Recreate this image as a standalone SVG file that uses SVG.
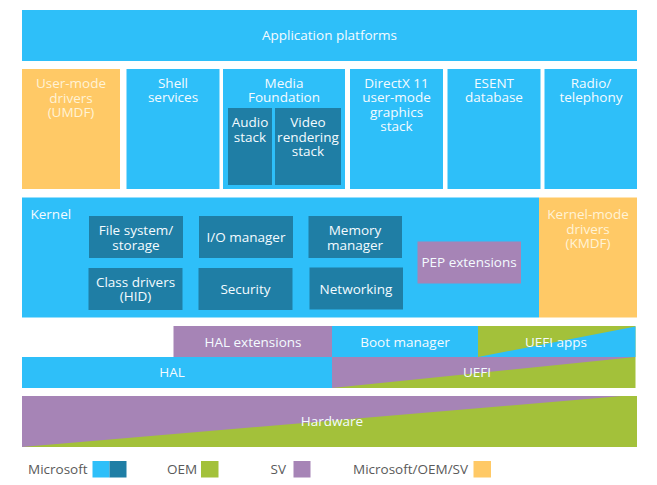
<svg xmlns="http://www.w3.org/2000/svg" width="657" height="485" viewBox="0 0 657 485">
<style>
text{font-family:"Open Sans","Noto Sans","DejaVu Sans",sans-serif;font-size:13.5px;fill:#F4FBFF;text-anchor:middle}
.lb{fill:#2EBFF9}
.db{fill:#1F7EA5}
.or{fill:#FFC966}
.pu{fill:#A684B6}
.gr{fill:#A3C13A}
.leg{fill:#5A5A5A;text-anchor:start}
.st{text-anchor:start}
.ot{fill:#FFF3D6}
</style>
<rect width="657" height="485" fill="#FFFFFF"/>
<g id="app-platforms"><rect class="lb" x="22" y="10" width="615" height="51"/><text x="329.5" y="40">Application platforms</text></g>
<g id="umdf"><rect class="or" x="22" y="69" width="98" height="120"/><text class="ot" x="71" y="88">User-mode<tspan x="71" dy="14.5">drivers</tspan><tspan x="71" dy="14.5">(UMDF)</tspan></text></g>
<g id="shell"><rect class="lb" x="126.5" y="69" width="93" height="120"/><text x="173" y="87.5">Shell<tspan x="173" dy="14.5">services</tspan></text></g>
<g id="media"><rect class="lb" x="223" y="69" width="122" height="120"/><text x="284" y="87.5">Media<tspan x="284" dy="14.5">Foundation</tspan></text></g>
<g id="audio"><rect class="db" x="228" y="108" width="44" height="77"/><text x="250" y="127.3">Audio<tspan x="250" dy="14.5">stack</tspan></text></g>
<g id="video"><rect class="db" x="275" y="108" width="66" height="77"/><text x="308" y="127.3">Video<tspan x="308" dy="14.5">rendering</tspan><tspan x="308" dy="14.5">stack</tspan></text></g>
<g id="directx"><rect class="lb" x="350" y="69" width="93" height="120"/><text x="396.5" y="87.5">DirectX 11<tspan x="396.5" dy="14.5">user-mode</tspan><tspan x="396.5" dy="14.5">graphics</tspan><tspan x="396.5" dy="14.5">stack</tspan></text></g>
<g id="esent"><rect class="lb" x="447.5" y="69" width="93" height="120"/><text x="494" y="87.5">ESENT<tspan x="494" dy="14.5">database</tspan></text></g>
<g id="radio"><rect class="lb" x="544.5" y="69" width="92.5" height="120"/><text x="591" y="87.5">Radio/<tspan x="591" dy="14.5">telephony</tspan></text></g>
<g id="kernel"><rect class="lb" x="22" y="197.5" width="517" height="120"/><text class="st" x="30.5" y="219.3">Kernel</text></g>
<g id="filesystem"><rect class="db" x="89" y="216" width="94" height="42"/><text x="136" y="235">File system/<tspan x="136" dy="14.5">storage</tspan></text></g>
<g id="io"><rect class="db" x="199" y="216" width="94" height="42"/><text x="246" y="242">I/O manager</text></g>
<g id="memory"><rect class="db" x="308.5" y="216" width="93.5" height="42"/><text x="355" y="235">Memory<tspan x="355" dy="14.5">manager</tspan></text></g>
<g id="classdrivers"><rect class="db" x="88.5" y="268" width="94" height="42"/><text x="135.5" y="286.7">Class drivers<tspan x="135.5" dy="14.5">(HID)</tspan></text></g>
<g id="security"><rect class="db" x="198.5" y="268" width="94" height="42"/><text x="245.5" y="294">Security</text></g>
<g id="networking"><rect class="db" x="309.5" y="267.5" width="93.5" height="42"/><text x="356" y="293.5">Networking</text></g>
<g id="pep"><rect class="pu" x="417.5" y="241.5" width="103.5" height="42"/><text x="469" y="266.5">PEP extensions</text></g>
<g id="kmdf"><rect class="or" x="539" y="197.5" width="98" height="120"/><text class="ot" x="588" y="219.3">Kernel-mode<tspan x="588" dy="14.5">drivers</tspan><tspan x="588" dy="14.5">(KMDF)</tspan></text></g>
<g id="hal-ext"><rect class="pu" x="173.5" y="326" width="159" height="31"/><text x="253" y="346.7">HAL extensions</text></g>
<g id="boot"><rect class="lb" x="332" y="326" width="146" height="31"/><text x="405" y="346.7">Boot manager</text></g>
<g id="uefi-apps"><rect class="gr" x="478" y="326" width="157.5" height="31"/><polygon class="lb" points="478,357 635.5,326.5 635.5,357"/><text x="556" y="346.7">UEFI apps</text></g>
<g id="hal"><rect class="lb" x="22" y="357" width="310" height="31"/><text x="172" y="377.3">HAL</text></g>
<g id="uefi"><rect class="gr" x="332" y="357" width="303.5" height="31"/><polygon class="pu" points="332,357 635.5,357 332,388"/><text x="477" y="377.3">UEFI</text></g>
<g id="hardware"><rect class="gr" x="22" y="396" width="615" height="51"/><polygon class="pu" points="22,396 622,396 22,447"/><text x="332" y="426">Hardware</text></g>
<g id="legend">
<text class="leg" x="28" y="474">Microsoft</text>
<rect class="lb" x="92.5" y="461" width="17" height="16.5"/><rect class="db" x="109.5" y="461" width="17" height="16.5"/>
<text class="leg" x="167" y="474">OEM</text>
<rect class="gr" x="201" y="461" width="17.5" height="16.5"/>
<text class="leg" x="270.5" y="474">SV</text>
<rect class="pu" x="293.5" y="461" width="17" height="16.5"/>
<text class="leg" x="353" y="474">Microsoft/OEM/SV</text>
<rect class="or" x="473.5" y="461" width="17.5" height="16.5"/>
</g>
<g id="connectors"/>
</svg>
